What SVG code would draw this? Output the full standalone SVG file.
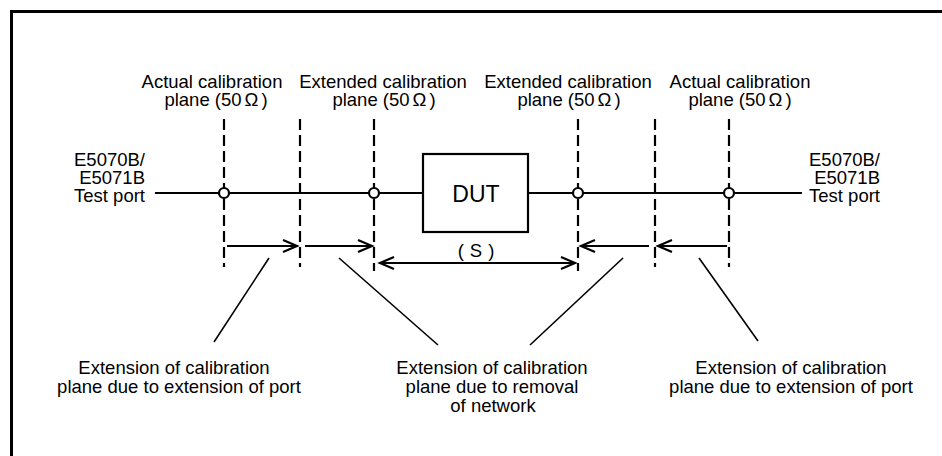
<svg xmlns="http://www.w3.org/2000/svg" width="942" height="456" viewBox="0 0 942 456">
<style>
text{font-family:"Liberation Sans",Arial,sans-serif;font-size:18.5px;fill:#000}
.c{text-anchor:middle}
.e{text-anchor:end}
.ln{stroke:#000;stroke-width:2.2;fill:none}
.dash{stroke:#000;stroke-width:2.2;stroke-dasharray:11 5;fill:none}
.thin{stroke:#000;stroke-width:1.6;fill:none}
.pt{fill:#fff;stroke:#000;stroke-width:2.2}
</style>
<defs>
<marker id="ah" markerUnits="userSpaceOnUse" markerWidth="18" markerHeight="16" refX="15" refY="7" orient="auto-start-reverse" viewBox="0 0 18 14">
<path d="M1,1 L15,7 L1,13" fill="none" stroke="#000" stroke-width="2.2"/>
</marker>
</defs>
<g id="frame">
<path d="M11.5,456 V11.5 H942" fill="none" stroke="#000" stroke-width="3"/>
</g>
<g id="connectors">
<path class="ln" d="M155,193 H423"/>
<path class="ln" d="M528,193 H802"/>
<path class="dash" d="M224,119 V267"/>
<path class="dash" d="M300,119 V267"/>
<path class="dash" d="M374,119 V271"/>
<path class="dash" d="M578,119 V271"/>
<path class="dash" d="M655,119 V267"/>
<path class="dash" d="M729,119 V267"/>
<path class="ln" d="M227,246 H297" marker-end="url(#ah)"/>
<path class="ln" d="M305,246 H372" marker-end="url(#ah)"/>
<path class="ln" d="M649,246 H581" marker-end="url(#ah)"/>
<path class="ln" d="M727,246 H658" marker-end="url(#ah)"/>
<path class="ln" d="M380,263 H575" marker-start="url(#ah)" marker-end="url(#ah)"/>
<path class="thin" d="M269,258 L214,342"/>
<path class="thin" d="M339,258 L438,345"/>
<path class="thin" d="M623,258 L530,345"/>
<path class="thin" d="M699,258 L758,341"/>
</g>
<g id="points">
<circle class="pt" cx="224" cy="193" r="5"/>
<circle class="pt" cx="374" cy="193" r="5"/>
<circle class="pt" cx="578" cy="193" r="5"/>
<circle class="pt" cx="729" cy="193" r="5"/>
</g>
<g id="dut">
<rect x="423" y="154" width="105" height="78" fill="#fff" stroke="#000" stroke-width="2.2"/>
<text class="c" x="476" y="202" style="font-size:23px">DUT</text>
</g>
<g id="port-left">
<text class="e" x="145" y="166">E5070B/</text>
<text class="e" x="145" y="184">E5071B</text>
<text class="e" x="145" y="202">Test port</text>
</g>
<g id="port-right">
<text class="e" x="880" y="166">E5070B/</text>
<text class="e" x="880" y="184">E5071B</text>
<text class="e" x="880" y="202">Test port</text>
</g>
<g id="plane-1">
<text class="c" x="212" y="88">Actual calibration</text>
<text class="c" x="216" y="106">plane (50<tspan dx="3">Ω</tspan><tspan dx="3">)</tspan></text>
</g>
<g id="plane-2">
<text class="c" x="383" y="88">Extended calibration</text>
<text class="c" x="384" y="106">plane (50<tspan dx="3">Ω</tspan><tspan dx="3">)</tspan></text>
</g>
<g id="plane-3">
<text class="c" x="568" y="88">Extended calibration</text>
<text class="c" x="569" y="106">plane (50<tspan dx="3">Ω</tspan><tspan dx="3">)</tspan></text>
</g>
<g id="plane-4">
<text class="c" x="740" y="88">Actual calibration</text>
<text class="c" x="740" y="106">plane (50<tspan dx="3">Ω</tspan><tspan dx="3">)</tspan></text>
</g>
<g id="s-label">
<text class="c" x="476" y="257">(<tspan dx="6">S</tspan><tspan dx="6">)</tspan></text>
</g>
<g id="note-left">
<text class="c" x="174" y="374">Extension of calibration</text>
<text class="c" x="179" y="393">plane due to extension of port</text>
</g>
<g id="note-mid">
<text class="c" x="492" y="374">Extension of calibration</text>
<text class="c" x="492" y="393">plane due to removal</text>
<text class="c" x="493" y="412">of network</text>
</g>
<g id="note-right">
<text class="c" x="791" y="374">Extension of calibration</text>
<text class="c" x="791" y="393">plane due to extension of port</text>
</g>
</svg>
